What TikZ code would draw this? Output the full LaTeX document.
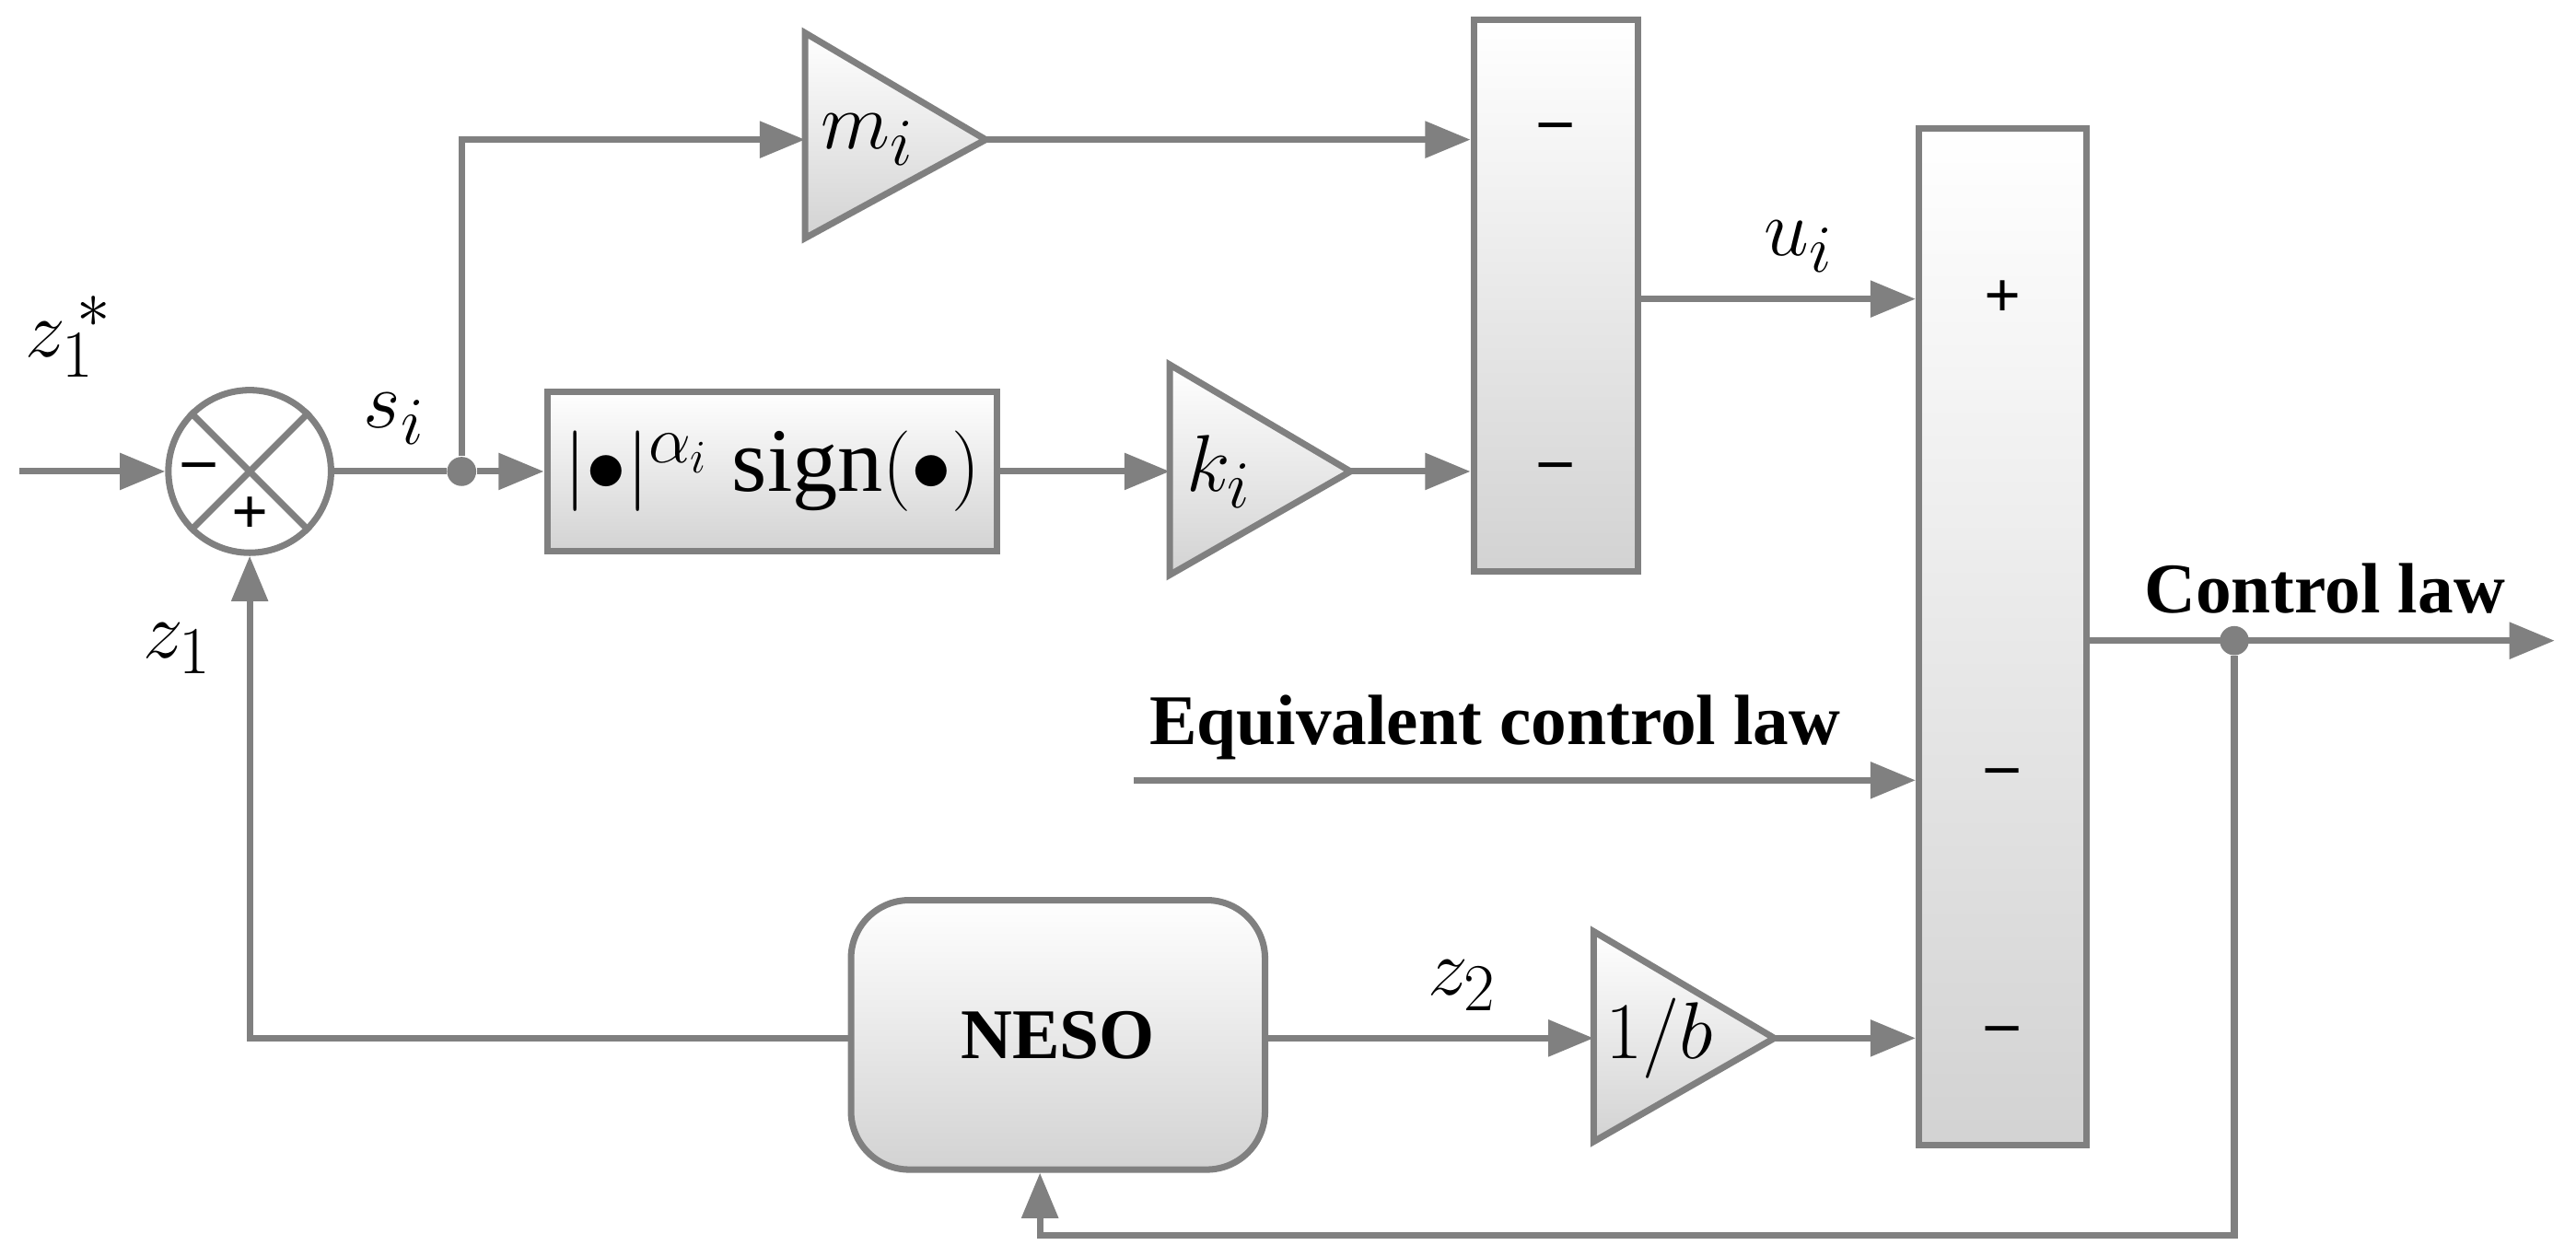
\documentclass[tikz,border=0pt]{standalone}
\usepackage{fontspec}
\setmainfont{Liberation Serif}
\usetikzlibrary{arrows.meta,shapes.geometric}
\definecolor{ln}{RGB}{128,128,128}
\tikzset{
 w/.style={draw=ln,line width=2pt},
 blk/.style={w,top color=white,bottom color=gray!35,inner sep=0},
 con/.style={w,-{Triangle[length=14pt,width=11pt]}},
 lab/.style={font=\fontsize{28}{32}\selectfont},
 blab/.style={font=\bfseries\fontsize{22}{26}\selectfont},
 sg/.style={font=\bfseries\fontsize{20}{24}\selectfont},
 dot/.style={circle,fill=ln,inner sep=0,minimum size=9pt},
}
\begin{document}
\begin{tikzpicture}[x=0.01784cm,y=-0.01784cm]
\useasboundingbox (0,0) rectangle (1568,765);
% sum
\node[w,circle,minimum size=99*0.01784cm,inner sep=0] (sum) at (152,287) {};
\draw[w] (sum.north west) -- (sum.south east) (sum.north east) -- (sum.south west);
\node[sg] at (121,287) {--};
\node[sg] at (152,314) {+};
\coordinate (in) at (12,287);
\node[lab] at (42,205) {$z_1^{\,*}$};
\draw[con] (in) -- (sum.west);
% nonlinear box
\node[blk,minimum width=274*0.01784cm,minimum height=97*0.01784cm,lab] (nl) at (470,287) {$\mathopen|{\bullet}\mathclose|^{\alpha_i}\ \mathrm{sign}({\bullet})$};
\node[dot] (br) at (281,287) {};
\draw[w] (sum.east) -- (br);
\draw[con] (br) -- (nl.west);
\node[lab] at (240,255) {$s_i$};
% m_i triangle
\draw[blk] (490,20) -- (600,85) -- (490,145) -- cycle;
\coordinate (mL) at (490,85); \coordinate (mT) at (600,85);
\node[lab] at (528,85) {$m_i$};
\draw[con] (br) |- (mL);
% k_i triangle
\draw[blk] (712,222) -- (822,287) -- (712,350) -- cycle;
\coordinate (kL) at (712,287); \coordinate (kT) at (822,287);
\node[lab] at (742,287) {$k_i$};
\draw[con] (nl.east) -- (kL);
% block1
\node[blk,minimum width=100*0.01784cm,minimum height=336*0.01784cm] (b1) at (947,180) {};
\node[sg] at (947,80) {--};
\node[sg] at (947,287) {--};
\draw[con] (mT) -- (b1.west |- mT);
\draw[con] (kT) -- (b1.west |- kT);
% block2
\node[blk,minimum width=102*0.01784cm,minimum height=619*0.01784cm] (b2) at (1219,387.5) {};
\node[sg] at (1219,182) {+};
\node[sg] at (1219,473) {--};
\node[sg] at (1219,630) {--};
\draw[con] (b1.east |- 0,182) -- (b2.west |- 0,182);
\node[lab] at (1095,150) {$u_i$};
% equivalent
\coordinate (eq) at (690,475);
\node[blab] at (910,443) {Equivalent control law};
\draw[con] (eq) -- (b2.west |- eq);
% NESO
\node[blk,rounded corners=18pt,minimum width=252*0.01784cm,minimum height=164*0.01784cm,blab] (neso) at (644,630) {NESO};
% 1/b
\draw[blk] (970,567) -- (1080,632) -- (970,695) -- cycle;
\coordinate (bL) at (970,632); \coordinate (bT) at (1080,632);
\node[lab] at (1010,632) {$1/b$};
\draw[con] (neso.east |- bL) -- (bL);
\node[lab] at (890,600) {$z_2$};
\draw[con] (bT) -- (b2.west |- bT);
% output
\coordinate (out) at (1555,390);
\node[dot] (od) at (1360,390) {};
\draw[con] (b2.east |- out) -- (out);
\node[blab] at (1415,358) {Control law};
\coordinate (fb) at (633,752);
\draw[con] (od) |- (fb) -- (neso.south -| fb);
\draw[con] (neso.west |- 0,632) -| (sum.south);
\node[lab] at (108,395) {$z_1$};
\end{tikzpicture}
\end{document}
